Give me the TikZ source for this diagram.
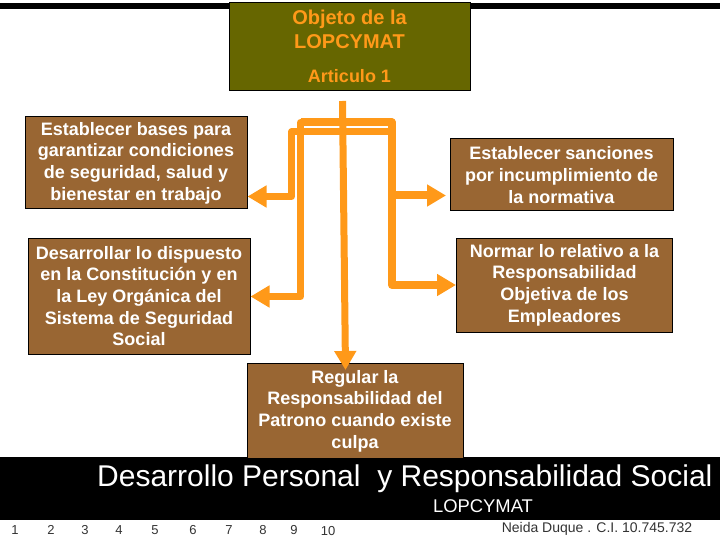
\documentclass[tikz,border=0pt]{standalone}
\usepackage{fontspec}
\setmainfont{Liberation Sans}
\usetikzlibrary{arrows.meta}
\definecolor{olivebox}{HTML}{666600}
\definecolor{brownbox}{HTML}{996633}
\definecolor{orangeline}{HTML}{FF9919}
\begin{document}
\begin{tikzpicture}[x=1pt, y=-1pt,
    main box/.style={draw=black, line width=1pt, fill=brownbox, text=white, align=center, inner sep=0pt,
        font=\bfseries\fontsize{18}{21.7}\selectfont},
    top box/.style={main box, fill=olivebox, text=orangeline, font=\bfseries\fontsize{20}{24}\selectfont},
    link/.style={draw=orangeline, line width=7pt, line join=round},
    tip/.style={link, -{Triangle[length=19pt, width=21pt]}},
    foot/.style={text=white, inner sep=0pt},
    page no/.style={inner sep=0pt, text=black!80, font=\fontsize{13}{15}\selectfont}]
    \useasboundingbox (0,0) rectangle (720,540);
    \fill[black] (0,3) rectangle (720,9);
    \fill[black] (0,457) rectangle (720,520);
    \node[top box, minimum width=241pt, minimum height=88pt] (objeto) at (349.5,46.5)
        {Objeto de la\\LOPCYMAT\\[10pt]{\fontsize{18}{24}\selectfont Articulo 1}};
    \node[main box, minimum width=222pt, minimum height=92pt] (bases) at (136,163)
        {Establecer bases para\\garantizar condiciones\\de seguridad, salud y\\bienestar en trabajo};
    \node[main box, minimum width=223pt, minimum height=72pt] (sanciones) at (561.5,175)
        {Establecer sanciones\\por incumplimiento de\\la normativa};
    \node[main box, minimum width=222pt, minimum height=116pt] (constitucion) at (139,296)
        {Desarrollar lo dispuesto\\en la Constitución y en\\la Ley Orgánica del\\Sistema de Seguridad\\Social};
    \node[main box, minimum width=216pt, minimum height=94pt] (empleadores) at (564.5,285)
        {Normar lo relativo a la\\Responsabilidad\\Objetiva de los\\Empleadores};
    \node[main box, minimum width=216pt, minimum height=95pt] (patrono) at (355,411)
        {Regular la\\Responsabilidad del\\Patrono cuando existe\\culpa};
    % lineas naranja
    \coordinate (troncoA) at (342.5,101);
    \coordinate (troncoB) at (345.5,370);
    \coordinate (supA) at (300.5,122.5);
    \coordinate (supB) at (392,122.5);
    \coordinate (infA) at (291.5,132);
    \coordinate (infB) at (392,132);
    \draw[tip] (infB) -- (infA) -- (291.5,196.5) -- (bases.east |- 0,196.5);
    \draw[tip] (supB) -- (supA) -- (300.5,296.5) -- (constitucion.east |- 0,296.5);
    \draw[tip, line width=8pt] (supA) -- (supB) -- (392,285) -- (empleadores.west |- 0,285);
    \draw[tip, line width=8pt] (392,195.5) -- (446,195.5);
    \draw[tip] (troncoA) -- (troncoB);
    % pie
    \node[foot, font=\fontsize{30}{32}\selectfont, anchor=base west] (titulo) at (97,486)
        {Desarrollo Personal\ \ y Responsabilidad Social};
    \node[foot, font=\fontsize{18.4}{20}\selectfont, anchor=base] (ley) at (483,512) {LOPCYMAT};
    \node[page no] (p1) at (15,530) {1};
    \node[page no] (p2) at (51,530) {2};
    \node[page no] (p3) at (85,530) {3};
    \node[page no] (p4) at (119,530) {4};
    \node[page no] (p5) at (155,530) {5};
    \node[page no] (p6) at (193,530) {6};
    \node[page no] (p7) at (229,530) {7};
    \node[page no] (p8) at (263,530) {8};
    \node[page no] (p9) at (294,530) {9};
    \node[page no] (p10) at (328,531) {10};
    \node[page no, font=\fontsize{14}{16}\selectfont] (autor) at (597,529) {Neida Duque . C.I. 10.745.732};
\end{tikzpicture}
\end{document}
